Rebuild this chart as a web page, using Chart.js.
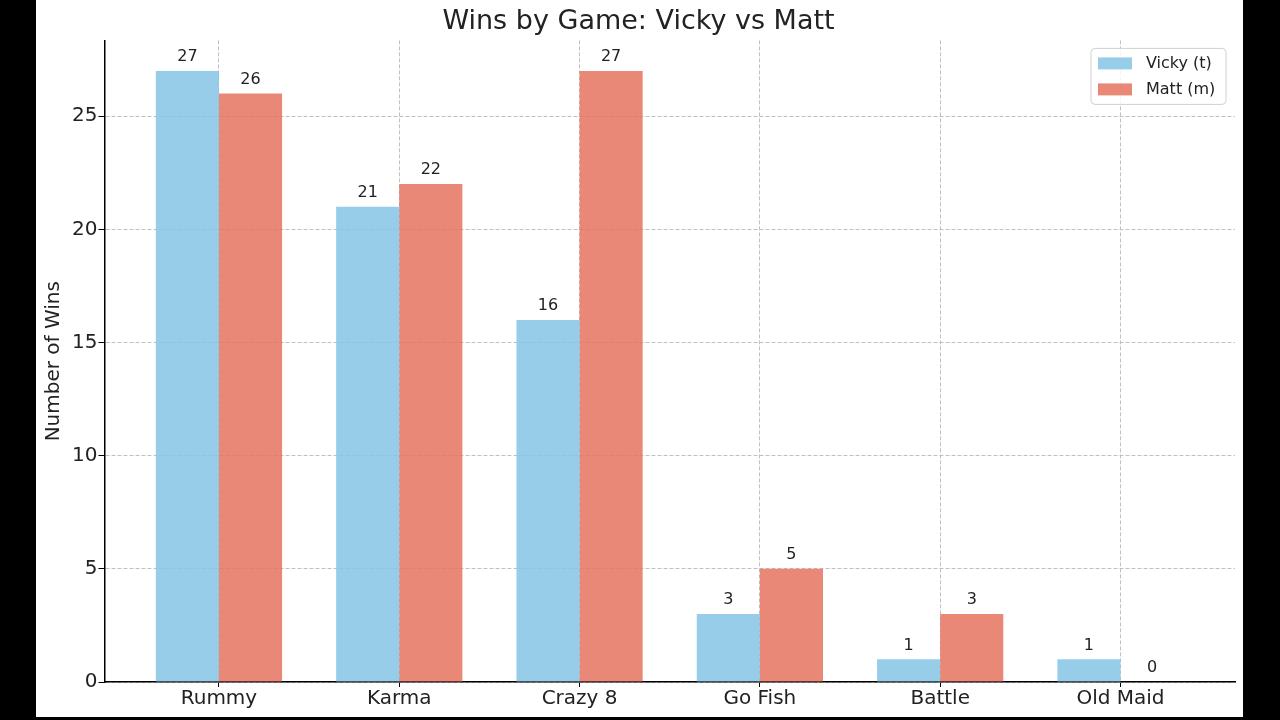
<!DOCTYPE html>
<html>
<head>
<meta charset="utf-8">
<script src="https://cdn.jsdelivr.net/npm/chart.js@4"></script>
<style>
  html, body { margin: 0; padding: 0; background: #000; }
  #frame { position: absolute; left: 36px; top: 0; width: 1207px; height: 717px; background: #fff; }
  #frame canvas { display: block; }
</style>
</head>
<body>
<div id="frame"><canvas id="winsChart" width="1207" height="717"></canvas></div>
<script>
var games = ['Rummy', 'Karma', 'Crazy 8', 'Go Fish', 'Battle', 'Old Maid'];
var vickyWins = [27, 21, 16, 3, 1, 1];
var mattWins = [26, 22, 27, 5, 3, 0];
var seriesNames = ['Vicky (t)', 'Matt (m)'];
var yTicks = [0, 5, 10, 15, 20, 25];

// slightly see-through, so the grid shows faintly through the bars
var vickyColor = 'rgba(134, 196, 229, 0.85)';
var mattColor = 'rgba(230, 115, 96, 0.85)';
var gridColor = '#c0c0c0';
var fontFamily = '"DejaVu Sans", sans-serif';

function toPoints(values) {
    return values.map(function (v, i) { return { x: i, y: v }; });
}

// numbers above each bar
var barValues = {
    id: 'barValues',
    afterDatasetsDraw: function (chart) {
        var ctx = chart.ctx;
        ctx.save();
        ctx.font = '16px ' + fontFamily;
        ctx.fillStyle = '#222';
        ctx.textAlign = 'center';
        ctx.textBaseline = 'bottom';
        chart.data.datasets.forEach(function (ds, d) {
            chart.getDatasetMeta(d).data.forEach(function (bar, i) {
                ctx.fillText(ds.data[i].y, bar.x, bar.y - 6);
            });
        });
        ctx.restore();
    }
};

// matplotlib style legend box in the top right corner
var boxLegend = {
    id: 'boxLegend',
    afterDraw: function (chart) {
        var ctx = chart.ctx;
        var area = chart.chartArea;
        var w = 135, h = 56;
        var x = area.right - 9 - w, y = area.top + 8;
        ctx.save();
        ctx.beginPath();
        ctx.roundRect(x, y, w, h, 4);
        ctx.fillStyle = 'rgba(255,255,255,0.8)';
        ctx.fill();
        ctx.strokeStyle = '#d0d0d0';
        ctx.lineWidth = 1;
        ctx.stroke();
        ctx.font = '16px ' + fontFamily;
        ctx.textBaseline = 'middle';
        chart.data.datasets.forEach(function (ds, d) {
            var cy = y + 15 + d * 26;
            ctx.fillStyle = ds.backgroundColor;
            ctx.fillRect(x + 7, cy - 6, 34, 12);
            ctx.fillStyle = '#222';
            ctx.fillText(ds.label, x + 55, cy);
        });
        ctx.restore();
    }
};

document.addEventListener('DOMContentLoaded', function () {
    Chart.defaults.font.family = fontFamily;
    Chart.defaults.color = '#222';

    var chartElement = document.getElementById('winsChart');

    new Chart(chartElement, {
        type: 'bar',
        data: {
            datasets: [{
                label: seriesNames[0],
                data: toPoints(vickyWins),
                backgroundColor: vickyColor,
                categoryPercentage: 0.7,
                barPercentage: 1.0
            }, {
                label: seriesNames[1],
                data: toPoints(mattWins),
                backgroundColor: mattColor,
                categoryPercentage: 0.7,
                barPercentage: 1.0
            }]
        },
        options: {
            responsive: false,
            animation: false,
            layout: { padding: { left: 6, right: 8, top: 0, bottom: 6 } },
            plugins: {
                legend: { display: false },
                tooltip: { enabled: false },
                title: {
                    display: true,
                    text: 'Wins by Game: Vicky vs Matt',
                    font: { size: 27, weight: 'normal' },
                    color: '#222',
                    padding: { top: 6, bottom: 2 }
                }
            },
            scales: {
                x: {
                    type: 'linear',
                    offset: false,
                    min: -0.635,
                    max: 5.635,
                    afterBuildTicks: function (scale) {
                        scale.ticks = games.map(function (g, i) { return { value: i }; });
                    },
                    ticks: {
                        font: { size: 20 },
                        color: '#222',
                        padding: 0,
                        callback: function (value) { return games[value]; }
                    },
                    grid: {
                        offset: false,
                        color: gridColor,
                        lineWidth: 1,
                        tickLength: 5,
                        tickColor: '#000',
                        tickBorderDash: []
                    },
                    border: { display: true, color: '#000', width: 1.5, dash: [4, 2] }
                },
                y: {
                    min: 0,
                    max: 28.35,
                    afterBuildTicks: function (scale) {
                        scale.ticks = yTicks.map(function (v) { return { value: v }; });
                    },
                    ticks: {
                        font: { size: 20 },
                        color: '#222',
                        padding: 1
                    },
                    title: {
                        display: true,
                        text: 'Number of Wins',
                        font: { size: 20 },
                        color: '#222',
                        padding: { top: 0, bottom: 5 }
                    },
                    grid: {
                        color: gridColor,
                        lineWidth: 1,
                        tickLength: 6,
                        tickColor: '#000',
                        tickBorderDash: []
                    },
                    border: { display: true, color: '#000', width: 1.5, dash: [4, 2] }
                }
            }
        },
        plugins: [barValues, boxLegend]
    });
});
</script>
</body>
</html>
